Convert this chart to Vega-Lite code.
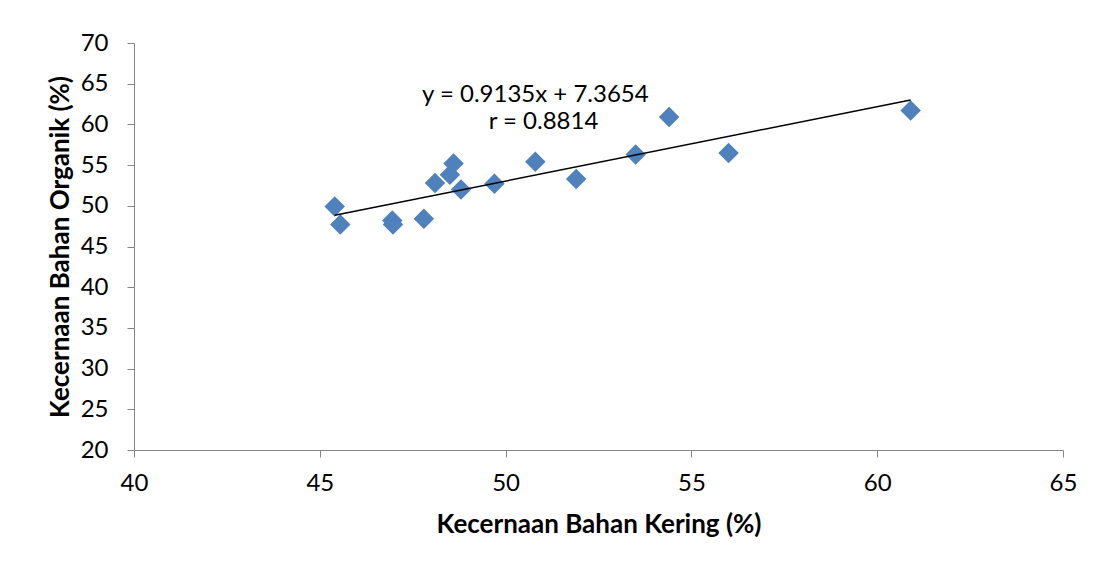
{
  "$schema": "https://vega.github.io/schema/vega-lite/v6.json",
  "width": 929,
  "height": 407,
  "autosize": "none",
  "padding": {"left": 134, "top": 43, "right": 34, "bottom": 116},
  "background": "white",
  "config": {
    "view": {"stroke": null},
    "font": "Lato",
    "axis": {
      "grid": false,
      "domainColor": "#868686",
      "tickColor": "#868686",
      "domainWidth": 1,
      "tickWidth": 1,
      "tickSize": 7,
      "labelFlush": false,
      "labelOverlap": false,
      "labelFont": "Lato",
      "labelFontSize": 24,
      "labelColor": "#000000",
      "titleFont": "Lato",
      "titleFontSize": 26,
      "titleFontWeight": "bold",
      "titleColor": "#000000"
    }
  },
  "datasets": {
    "pts": [
      {"kbk": 45.4, "kbo": 49.9},
      {"kbk": 45.55, "kbo": 47.7},
      {"kbk": 46.95, "kbo": 48.2},
      {"kbk": 46.97, "kbo": 47.7},
      {"kbk": 47.8, "kbo": 48.4},
      {"kbk": 48.1, "kbo": 52.8},
      {"kbk": 48.5, "kbo": 53.8},
      {"kbk": 48.6, "kbo": 55.2},
      {"kbk": 48.8, "kbo": 52.0},
      {"kbk": 49.7, "kbo": 52.7},
      {"kbk": 50.8, "kbo": 55.4},
      {"kbk": 51.9, "kbo": 53.3},
      {"kbk": 53.5, "kbo": 56.3},
      {"kbk": 54.4, "kbo": 60.9},
      {"kbk": 56.0, "kbo": 56.5},
      {"kbk": 60.9, "kbo": 61.7}
    ],
    "trend": [
      {"kbk": 45.4, "kbo": 48.84},
      {"kbk": 60.9, "kbo": 62.998}
    ],
    "notes": [
      {"label": "y = 0.9135x + 7.3654", "kbk": 50.8, "kbo": 63.64},
      {"label": "r = 0.8814", "kbk": 51.02, "kbo": 60.24}
    ]
  },
  "layer": [
    {
      "data": {"name": "pts"},
      "mark": {"type": "point", "shape": "diamond", "filled": true, "size": 420, "color": "#4F81BD", "opacity": 1},
      "encoding": {
        "x": {"field": "kbk", "type": "quantitative", "scale": {"domain": [40, 65], "nice": false, "zero": false},
          "axis": {"values": [40, 45, 50, 55, 60, 65], "title": "Kecernaan Bahan Kering (%)", "labelPadding": 14, "titlePadding": 16}},
        "y": {"field": "kbo", "type": "quantitative", "scale": {"domain": [20, 70], "nice": false, "zero": false},
          "axis": {"values": [20, 25, 30, 35, 40, 45, 50, 55, 60, 65, 70], "title": "Kecernaan Bahan Organik (%)", "labelPadding": 19, "titlePadding": 7}}
      }
    },
    {
      "data": {"name": "trend"},
      "mark": {"type": "line", "color": "#000000", "strokeWidth": 1.5},
      "encoding": {
        "x": {"field": "kbk", "type": "quantitative"},
        "y": {"field": "kbo", "type": "quantitative"}
      }
    },
    {
      "data": {"name": "notes"},
      "mark": {"type": "text", "font": "Lato", "fontSize": 24, "color": "#000000", "align": "center", "baseline": "middle"},
      "encoding": {
        "x": {"field": "kbk", "type": "quantitative"},
        "y": {"field": "kbo", "type": "quantitative"},
        "text": {"field": "label"}
      }
    }
  ]
}
